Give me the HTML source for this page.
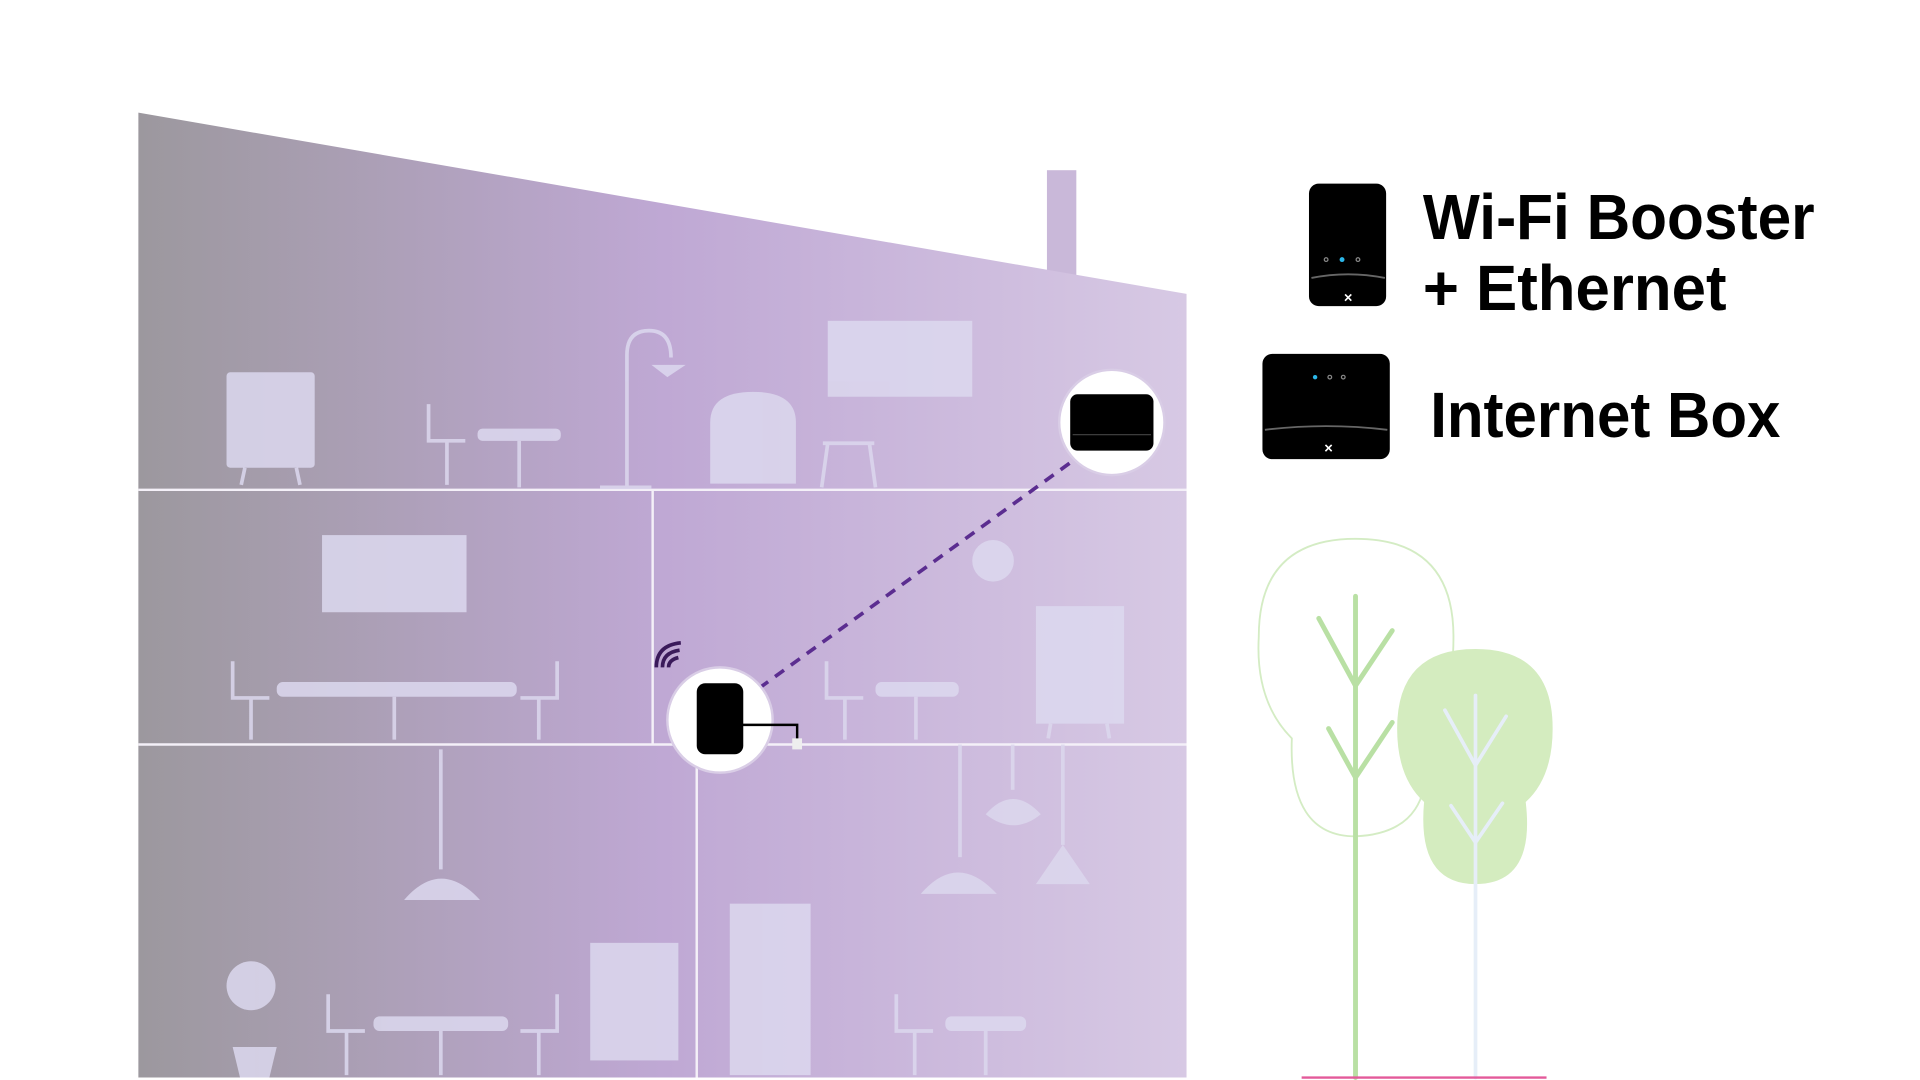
<!DOCTYPE html>
<html><head><meta charset="utf-8"><style>html,body{margin:0;padding:0;background:#fff}svg{display:block}</style></head>
<body>
<svg width="1920" height="1080" viewBox="0 0 1568 882" preserveAspectRatio="none" xmlns="http://www.w3.org/2000/svg">
<defs>
<linearGradient id="g" x1="113" y1="0" x2="969" y2="0" gradientUnits="userSpaceOnUse">
<stop offset="0" stop-color="#9c989e"/><stop offset="0.5" stop-color="#bfa8d4"/><stop offset="1" stop-color="#d7c9e4"/>
</linearGradient>
</defs>
<rect x="855" y="139" width="24" height="90" fill="#c9b8d9"/>
<polygon points="113,92 969,240 969,880 113,880" fill="url(#g)"/>
<g stroke="#f4f0f8" stroke-width="2" fill="none">
<line x1="113" y1="400" x2="969" y2="400"/><line x1="113" y1="608" x2="969" y2="608"/>
<line x1="533" y1="400" x2="533" y2="608"/><line x1="569" y1="608" x2="569" y2="880"/>
</g>
<g fill="#dcd8ee" opacity="0.85">
<rect x="185" y="304" width="72" height="78" rx="3"/>
<rect x="676" y="262" width="118" height="62"/>
<rect x="263" y="437" width="118" height="63"/>
<rect x="846" y="495" width="72" height="96"/>
<rect x="482" y="770" width="72" height="96"/>
<rect x="596" y="738" width="66" height="140"/>
<rect x="390" y="350" width="68" height="10" rx="4"/>
<rect x="226" y="557" width="196" height="12" rx="5"/>
<rect x="715" y="557" width="68" height="12" rx="5"/>
<rect x="305" y="830" width="110" height="12" rx="5"/>
<rect x="772" y="830" width="66" height="12" rx="5"/>
<path d="M580 345 q0-25 35-25 q35 0 35 25 v50 h-70z"/>
<circle cx="811" cy="458" r="17"/>
<path d="M330 735 q30-35 62 0z"/><path d="M752 730 q30-35 62 0z"/><path d="M846 722 l22-32 l22 32z"/>
<path d="M805 665 q22-25 45 0 q-22 18-45 0z"/>
<path d="M190 855 h36 l-6 25 h-24z"/>
<circle cx="205" cy="805" r="20"/>
<path d="M532 298 q20 0 28 0 l-15 10z"/>
</g>
<g stroke="#dcd8ee" stroke-width="3" fill="none" opacity="0.85">
<path d="M512 398 V290 q0-20 18-20 q18 0 18 22"/><line x1="490" y1="398" x2="532" y2="398"/>
<line x1="424" y1="360" x2="424" y2="398"/><line x1="322" y1="569" x2="322" y2="604"/>
<line x1="748" y1="569" x2="748" y2="604"/><line x1="360" y1="842" x2="360" y2="878"/><line x1="805" y1="842" x2="805" y2="878"/>
<line x1="360" y1="612" x2="360" y2="710"/><line x1="784" y1="608" x2="784" y2="700"/><line x1="868" y1="608" x2="868" y2="690"/><line x1="827" y1="608" x2="827" y2="645"/>
<path d="M350 330 v30 h30 M365 360 v36"/><path d="M190 540 v30 h30 M205 570 v34"/><path d="M455 540 v30 h-30 M440 570 v34"/>
<path d="M675 540 v30 h30 M690 570 v34"/><path d="M268 812 v30 h30 M283 842 v36"/><path d="M455 812 v30 h-30 M440 842 v36"/><path d="M732 812 v30 h30 M747 842 v36"/>
<path d="M672 362 h42 M676 362 l-5 36 M710 362 l5 36"/>
<path d="M200 382 l-3 14 M242 382 l3 14 M858 591 l-2 12 M904 591 l2 12"/>
</g>
<line x1="620" y1="562" x2="878" y2="375" stroke="#5b2d90" stroke-width="3" stroke-dasharray="9,7"/>
<circle cx="908" cy="345" r="43" fill="#fff" stroke="#d9cde6" stroke-width="2"/>
<rect x="874" y="322" width="68" height="46" rx="6" fill="#000"/>
<line x1="876" y1="355" x2="940" y2="355" stroke="#444" stroke-width="1"/>
<circle cx="588" cy="588" r="43" fill="#fff" stroke="#d9cde6" stroke-width="2"/>
<rect x="569" y="558" width="38" height="58" rx="7" fill="#000"/>
<path d="M606 592 h45 v14" stroke="#000" stroke-width="2" fill="none"/>
<rect x="647" y="603" width="8" height="9" fill="#eee"/>
<g fill="none" stroke="#3a1a5a" stroke-width="3"><path d="M536 545 q0-18 20-20"/><path d="M541 545 q0-12 14-14"/><path d="M546 545 q0-6 8-8"/></g>
<rect x="1069" y="150" width="63" height="100" rx="8" fill="#000"/>
<path d="M1071 227 q30-6 60 0" stroke="#666" stroke-width="1.5" fill="none"/>
<circle cx="1096" cy="212" r="2" fill="#2bb6e8"/><circle cx="1083" cy="212" r="1.5" fill="none" stroke="#888"/><circle cx="1109" cy="212" r="1.5" fill="none" stroke="#888"/>
<text x="1101" y="247" fill="#fff" font-family="Liberation Sans, sans-serif" font-weight="bold" font-size="12" text-anchor="middle">×</text>
<rect x="1031" y="289" width="104" height="86" rx="8" fill="#000"/>
<path d="M1033 351 q50-6 100 0" stroke="#666" stroke-width="1.5" fill="none"/>
<circle cx="1074" cy="308" r="1.8" fill="#2bb6e8"/><circle cx="1086" cy="308" r="1.5" fill="none" stroke="#888"/><circle cx="1097" cy="308" r="1.5" fill="none" stroke="#888"/>
<text x="1085" y="370" fill="#fff" font-family="Liberation Sans, sans-serif" font-weight="bold" font-size="12" text-anchor="middle">×</text>
<g font-family="Liberation Sans, sans-serif" font-weight="bold" font-size="52" fill="#000">
<text x="1162" y="195" textLength="320" lengthAdjust="spacingAndGlyphs">Wi-Fi Booster</text>
<text x="1162" y="253" textLength="248" lengthAdjust="spacingAndGlyphs">+ Ethernet</text>
<text x="1168" y="357" textLength="286" lengthAdjust="spacingAndGlyphs">Internet Box</text>
</g>
<path d="M1107 440 q80 0 80 80 q0 60-25 80 q15 80-55 83 q-55 0-52-80 q-30-30-27-83 q0-80 79-80z" fill="none" stroke="#d4ecc4" stroke-width="1.5"/>
<path d="M1205 530 q63 0 63 65 q0 40-22 60 q8 67-41 67 q-48 0-42-67 q-22-20-22-60 q0-65 64-65z" fill="#d4ecbf"/>
<g stroke="#b9e0a4" stroke-width="4" fill="none" stroke-linecap="round">
<line x1="1107" y1="487" x2="1107" y2="880"/><path d="M1077 505 l30 55 l30-45"/><path d="M1085 595 l22 40 l30-45"/>
</g>
<g stroke="#e6eef8" stroke-width="3" fill="none" stroke-linecap="round">
<line x1="1205" y1="568" x2="1205" y2="880"/><path d="M1180 580 l25 45 l25-40"/><path d="M1185 658 l20 30 l22-32"/>
</g>
<line x1="1063" y1="880" x2="1263" y2="880" stroke="#e35a9a" stroke-width="2"/>
</svg>
</body></html>
